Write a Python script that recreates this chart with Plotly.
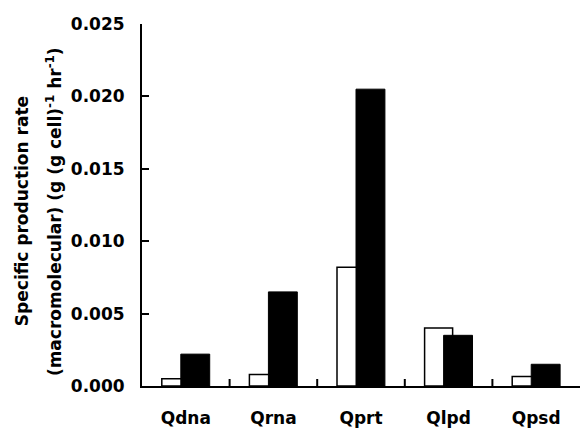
import plotly.graph_objects as go

# Specific macromolecular production rates, g (g cell)^-1 hr^-1
categories = ["Qdna", "Qrna", "Qprt", "Qlpd", "Qpsd"]
open_values = [0.0005, 0.0008, 0.0082, 0.0040, 0.00065]
filled_values = [0.0022, 0.0065, 0.0205, 0.0035, 0.0015]
y_ticks = [0.000, 0.005, 0.010, 0.015, 0.020, 0.025]

# category slots on a numeric axis so separator ticks can sit between groups
positions = list(range(len(categories)))
separators = [p + 0.5 for p in positions[:-1]]
x_range = [-0.5, len(categories) - 0.5]

FONT = "DejaVu Sans"
font_bold = dict(family=FONT, size=17, color="black", weight="bold")
TICK_LEN_PX = 7
PLOT_HEIGHT_PX = 428 - 24 - 42

fig = go.Figure()

# open (white) bars drawn first, filled bars overlap them on the right
fig.add_trace(go.Bar(
    x=positions, y=open_values,
    width=0.32, offset=-0.274,
    marker=dict(color="white", line=dict(color="black", width=1.5)),
    showlegend=False,
))
fig.add_trace(go.Bar(
    x=positions, y=filled_values,
    width=0.33, offset=-0.057,
    marker=dict(color="black", line=dict(color="black", width=1)),
    showlegend=False,
))

# short upward separator ticks between category groups
for s in separators:
    fig.add_shape(type="line", xref="x", yref="y domain",
                  x0=s, x1=s, y0=0, y1=TICK_LEN_PX / PLOT_HEIGHT_PX,
                  line=dict(color="black", width=2))

fig.update_layout(
    width=580, height=428,
    margin=dict(l=142, r=0, t=24, b=42),
    paper_bgcolor="white", plot_bgcolor="white",
    barmode="overlay",
    font=font_bold,
    xaxis=dict(
        range=x_range, automargin=False,
        tickvals=positions, ticktext=categories, ticks="",
        showline=True, linecolor="black", linewidth=2,
        showgrid=False, zeroline=False,
        tickfont=font_bold, ticklabelstandoff=16,
    ),
    yaxis=dict(
        range=[0, 0.025], tickvals=y_ticks, tickformat=".3f", automargin=False,
        showline=True, linecolor="black", linewidth=2,
        ticks="inside", ticklen=7, tickwidth=2, tickcolor="black",
        showgrid=False, zeroline=False,
        tickfont=font_bold, ticklabelstandoff=12,
    ),
    annotations=[
        dict(text="Specific production rate",
             xref="paper", yref="paper", x=-0.274, y=0.483,
             xanchor="center", yanchor="middle", textangle=-90,
             showarrow=False, font=font_bold),
        dict(text="(macromolecular) (g (g cell)<sup>-1</sup> hr<sup>-1</sup>)",
             xref="paper", yref="paper", x=-0.201, y=0.483,
             xanchor="center", yanchor="middle", textangle=-90,
             showarrow=False, font=font_bold),
    ],
)

fig.write_html("out.html")
